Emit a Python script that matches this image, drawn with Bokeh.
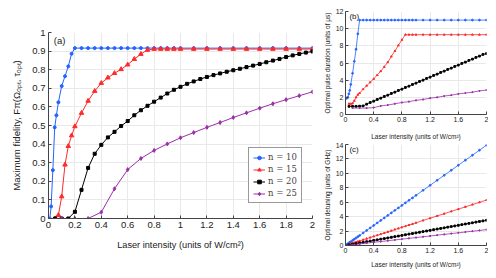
from bokeh.plotting import figure
from bokeh.layouts import row, column
from bokeh.models import Range1d, FixedTicker, CustomJSTickFormatter, Label
from bokeh.embed import file_html
from bokeh.resources import INLINE

# ---------------- data ----------------
x10 = [0.01, 0.02, 0.033, 0.047, 0.06, 0.075, 0.1, 0.125, 0.15, 0.175, 0.2,
       0.25, 0.3, 0.35, 0.4, 0.45, 0.5, 0.55, 0.6, 0.65, 0.7, 0.75, 0.8, 0.85, 0.9, 0.95, 1.0,
       1.1, 1.2, 1.3, 1.4, 1.5, 1.6, 1.7, 1.8, 1.9, 2.0]
x15 = [0.05, 0.075, 0.1, 0.125, 0.15, 0.175, 0.2,
       0.25, 0.3, 0.35, 0.4, 0.45, 0.5, 0.55, 0.6, 0.65, 0.7, 0.75, 0.8, 0.85, 0.9, 0.95, 1.0,
       1.1, 1.2, 1.3, 1.4, 1.5, 1.6, 1.7, 1.8, 1.9, 2.0]
x20 = [0.05, 0.1, 0.15, 0.2, 0.25, 0.3, 0.35, 0.4, 0.45, 0.5, 0.55, 0.6, 0.65, 0.7, 0.75,
       0.8, 0.85, 0.9, 0.95, 1.0, 1.05, 1.1, 1.15, 1.2, 1.25, 1.3, 1.35, 1.4, 1.45, 1.5,
       1.55, 1.6, 1.65, 1.7, 1.75, 1.8, 1.85, 1.9, 1.95, 2.0]
x25 = [0.1, 0.2, 0.3, 0.4, 0.5, 0.6, 0.7, 0.8, 0.9, 1.0,
       1.1, 1.2, 1.3, 1.4, 1.5, 1.6, 1.7, 1.8, 1.9, 2.0]

# (a) maximum fidelity
f10 = [0, 0.065, 0.26, 0.49, 0.555, 0.625, 0.712, 0.765, 0.818, 0.886, 0.916,
       0.916, 0.916, 0.916, 0.916, 0.916, 0.916, 0.916, 0.916, 0.916, 0.916, 0.916, 0.916,
       0.916, 0.916, 0.916, 0.916,
       0.916, 0.916, 0.916, 0.916, 0.916, 0.916, 0.916, 0.916, 0.916, 0.916]
f15 = [0, 0.018, 0.118, 0.289, 0.389, 0.446, 0.495,
       0.567, 0.632, 0.685, 0.728, 0.757, 0.781, 0.802, 0.827, 0.857, 0.884, 0.906, 0.911,
       0.911, 0.911, 0.911, 0.911,
       0.911, 0.911, 0.911, 0.911, 0.911, 0.911, 0.911, 0.911, 0.911, 0.911]
f20 = [0, 0, 0, 0.036, 0.154, 0.272, 0.348, 0.396, 0.436, 0.466, 0.497, 0.524, 0.555,
       0.582, 0.606, 0.628, 0.65, 0.672, 0.692, 0.708, 0.724, 0.737, 0.75, 0.761, 0.771,
       0.78, 0.789, 0.797, 0.805, 0.814, 0.822, 0.831, 0.84, 0.849, 0.858, 0.868, 0.877,
       0.885, 0.892, 0.898]
f25 = [0, 0, 0, 0.034, 0.16, 0.263, 0.323, 0.366, 0.401, 0.434, 0.462, 0.49, 0.516,
       0.543, 0.568, 0.593, 0.617, 0.639, 0.66, 0.681]

# (b) optimal pulse duration (us)
t10 = [1.9, 1.9, 2.0, 2.4, 2.8, 3.5, 4.8, 6.2, 7.6, 9.4, 11.0,
       11.0, 11.0, 11.0, 11.0, 11.0, 11.0, 11.0, 11.0, 11.0, 11.0, 11.0, 11.0, 11.0, 11.0,
       11.0, 11.0,
       11.0, 11.0, 11.0, 11.0, 11.0, 11.0, 11.0, 11.0, 11.0, 11.0]
t15 = [1.25, 1.25, 1.3, 1.6, 2.0, 2.3, 2.5,
       2.95, 3.35, 3.75, 4.15, 4.6, 5.05, 5.55, 6.1, 6.75, 7.4, 8.05, 8.7, 9.3, 9.3, 9.3, 9.3,
       9.3, 9.3, 9.3, 9.3, 9.3, 9.3, 9.3, 9.3, 9.3, 9.3]
t20 = [0.95, 0.95, 0.95, 0.97, 1.0, 1.2, 1.4, 1.55, 1.75, 1.9, 2.1, 2.25, 2.45, 2.6, 2.8,
       2.95, 3.15, 3.3, 3.5, 3.65, 3.85, 4.0, 4.2, 4.35, 4.55, 4.7, 4.9, 5.05, 5.25, 5.4,
       5.6, 5.75, 5.95, 6.1, 6.3, 6.45, 6.65, 6.8, 7.0, 7.1]
t25 = [0.75, 0.75, 0.75, 0.8, 1.0, 1.1, 1.25, 1.4, 1.5, 1.65, 1.75, 1.9, 2.0, 2.15, 2.25,
       2.4, 2.5, 2.6, 2.75, 2.85]

# (c) optimal detuning (GHz)
d10 = [0.07, 0.14, 0.23, 0.33, 0.42, 0.52, 0.7, 0.87, 1.04, 1.22, 1.39,
       1.74, 2.09, 2.43, 2.78, 3.13, 3.48, 3.82, 4.17, 4.52, 4.87, 5.21, 5.56, 5.91, 6.26,
       6.6, 6.95,
       7.65, 8.34, 9.04, 9.73, 10.43, 11.12, 11.82, 12.51, 13.21, 13.9]
d15 = [0.16, 0.24, 0.32, 0.39, 0.47, 0.55, 0.63,
       0.79, 0.95, 1.1, 1.26, 1.42, 1.58, 1.73, 1.89, 2.05, 2.21, 2.36, 2.52, 2.68, 2.84,
       2.99, 3.15,
       3.47, 3.78, 4.1, 4.41, 4.73, 5.04, 5.36, 5.67, 5.99, 6.3]
d20 = [0.09, 0.18, 0.26, 0.35, 0.44, 0.53, 0.61, 0.7, 0.79, 0.88, 0.96, 1.05, 1.14, 1.23,
       1.31, 1.4, 1.49, 1.58, 1.66, 1.75, 1.84, 1.93, 2.01, 2.1, 2.19, 2.28, 2.36, 2.45,
       2.54, 2.63, 2.71, 2.8, 2.89, 2.98, 3.06, 3.15, 3.24, 3.33, 3.41, 3.5]
d25 = [0.11, 0.22, 0.33, 0.44, 0.55, 0.66, 0.77, 0.88, 0.99, 1.1, 1.21, 1.32, 1.43, 1.54,
       1.65, 1.76, 1.87, 1.98, 2.09, 2.2]

series_names = ["n = 10", "n = 15", "n = 20", "n = 25"]
colors = ["#2463ff", "#ff2a2a", "#000000", "#9b2fa8"]
markers = ["circle", "triangle", "square", "diamond"]

xticks_a = [0, 0.2, 0.4, 0.6, 0.8, 1, 1.2, 1.4, 1.6, 1.8, 2]
yticks_a = [0, 0.1, 0.2, 0.3, 0.4, 0.5, 0.6, 0.7, 0.8, 0.9, 1]
xticks_bc = [0, 0.4, 0.8, 1.2, 1.6, 2]
yticks_b = [0, 2, 4, 6, 8, 10, 12]
yticks_c = [0, 2, 4, 6, 8, 10, 12, 14]

xlabel = "Laser intensity (units of W/cm\u00b2)"

FONT = "Liberation Sans"
fmt = CustomJSTickFormatter(code="return String(tick);")


def make_fig(w, h, ml, mr, mt, mb, ymax, xt, yt, tfs, lfs, xlab, ylab,
             tick_sd, xlab_sd, ylab_sd):
    p = figure(width=w, height=h, x_range=Range1d(0, 2), y_range=Range1d(0, ymax),
               output_backend="svg", toolbar_location=None,
               min_border_left=ml, min_border_right=mr, min_border_top=mt,
               min_border_bottom=mb)
    p.outline_line_color = None
    p.background_fill_color = "white"
    for ax, ticks, lab, sd in ((p.xaxis[0], xt, xlab, xlab_sd), (p.yaxis[0], yt, ylab, ylab_sd)):
        ax.ticker = FixedTicker(ticks=ticks)
        ax.formatter = fmt
        ax.minor_tick_line_color = None
        ax.major_tick_in = 3
        ax.major_tick_out = 0
        ax.axis_line_color = "#444444"
        ax.major_tick_line_color = "#444444"
        ax.major_label_text_font = FONT
        ax.major_label_text_font_size = tfs
        ax.major_label_text_color = "#222222"
        ax.major_label_standoff = tick_sd
        ax.axis_label = lab
        ax.axis_label_text_font = FONT
        ax.axis_label_text_font_size = lfs
        ax.axis_label_text_font_style = "normal"
        ax.axis_label_text_color = "#222222"
        ax.axis_label_standoff = sd
    p.xgrid.grid_line_color = "#e9e9e9"
    p.ygrid.grid_line_color = "#e9e9e9"
    return p


# ---------------- (a) ----------------
pa = make_fig(312, 262, 38, 8, 24, 52, 1, xticks_a, yticks_a, "9.5px", "9.2px", xlabel,
              "Maximum fidelity, F\u03c0(\u03a9\u2092\u209a\u209c, \u03c4\u2092\u209a\u209c)",
              3, 9, 7)
pa.yaxis[0].axis_label_text_font_size = "9.6px"
xa = [x10, x15, x20, x25]
ya = [f10, f15, f20, f25]
sizes_a = [3, 4.5, 3, 4]
for xs, ys, c, m, s, nm in zip(xa, ya, colors, markers, sizes_a, series_names):
    pa.line(xs, ys, line_color=c, line_width=1, legend_label=nm)
    pa.scatter(xs, ys, marker=m, size=s, fill_color=c, line_color=c, legend_label=nm)
leg = pa.legend[0]
leg.location = (200, 15)
leg.label_text_font = "DejaVu Serif"
leg.label_text_font_size = "8.5px"
leg.label_height = 9
leg.glyph_height = 9
leg.glyph_width = 12
leg.spacing = 2
leg.padding = 4
leg.margin = 0
leg.label_standoff = 3
leg.border_line_color = "#333333"
leg.border_line_width = 1
leg.background_fill_alpha = 1
pa.add_layout(Label(x=0.04, y=0.985, text="(a)", text_font=FONT, text_font_size="9.5px",
                    text_baseline="top", text_color="#222222"))

# ---------------- (b) ----------------
pb = make_fig(168, 134, 23, 2, 3, 26, 12, xticks_bc, yticks_b, "7px", "6.5px", xlabel,
              "Optimal pulse duration (units of \u03bcs)", 2, 8, 2)
yb = [t10, t15, t20, t25]
for xs, ys, c, m, nm in zip(xa, yb, colors, markers, series_names):
    pb.line(xs, ys, line_color=c, line_width=0.8)
    pb.scatter(xs, ys, marker=m, size=1.8, fill_color=c, line_color=c)
pb.add_layout(Label(x=0.055, y=11.95, text="(b)", text_font=FONT, text_font_size="8px",
                    text_baseline="top", text_color="#222222"))

# ---------------- (c) ----------------
pc = make_fig(168, 128, 23, 2, 2, 22, 14, xticks_bc, yticks_c, "7px", "6.5px", xlabel,
              "Optimal detuning (units of GHz)", 2, 5, 2)
yc = [d10, d15, d20, d25]
for xs, ys, c, m, nm in zip(xa, yc, colors, markers, series_names):
    pc.line([0] + xs, [0] + ys, line_color=c, line_width=0.8)
    pc.scatter(xs, ys, marker=m, size=1.8, fill_color=c, line_color=c)
pc.add_layout(Label(x=0.055, y=13.9, text="(c)", text_font=FONT, text_font_size="8px",
                    text_baseline="top", text_color="#222222"))

layout = row(pa, column(pb, pc), margin=(8, 8, 8, 8))
open("out.html", "w").write(file_html(layout, INLINE))
